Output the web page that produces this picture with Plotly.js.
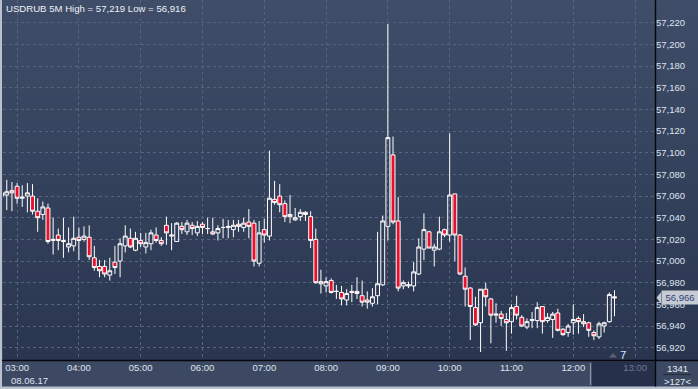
<!DOCTYPE html>
<html><head><meta charset="utf-8">
<script src="https://cdn.plot.ly/plotly-3.0.1.min.js"></script>
<style>html,body{margin:0;padding:0;background:#3d4963;overflow:hidden}#chart{width:698px;height:389px}</style>
</head><body><div id="chart"></div>
<script>
const symbol = 'USDRUB';
const timeframe = '5M';
const dateLabel = '08.06.17';
const dayPrefix = '2017-06-08 ';
const barCount = 1341;
const visibleBars = 127;
const markerCount = 7;

const times = [
 '02:45','02:50','02:55',
 '03:00','03:05','03:10','03:15','03:20','03:25','03:30','03:35','03:40','03:45','03:50','03:55',
 '04:00','04:05','04:10','04:15','04:20','04:25','04:30','04:35','04:40','04:45','04:50','04:55',
 '05:00','05:05','05:10','05:15','05:20','05:25','05:30','05:35','05:40','05:45','05:50','05:55',
 '06:00','06:05','06:10','06:15','06:20','06:25','06:30','06:35','06:40','06:45','06:50','06:55',
 '07:00','07:05','07:10','07:15','07:20','07:25','07:30','07:35','07:40','07:45','07:50','07:55',
 '08:00','08:05','08:10','08:15','08:20','08:25','08:30','08:35','08:40','08:45','08:50','08:55',
 '09:00','09:05','09:10','09:15','09:20','09:25','09:30','09:35','09:40','09:45','09:50','09:55',
 '10:00','10:05','10:10','10:15','10:20','10:25','10:30','10:35','10:40','10:45','10:50','10:55',
 '11:00','11:05','11:10','11:15','11:20','11:25','11:30','11:35','11:40','11:45','11:50','11:55',
 '12:00','12:05','12:10','12:15','12:20','12:25','12:30','12:35','12:40'
];

const open = [
 57.060,57.061,57.065,
 57.069,57.058,57.060,57.060,57.046,57.043,57.049,57.019,57.024,57.019,57.013,57.014,
 57.022,57.020,57.022,57.003,56.995,56.995,56.987,56.999,57.000,57.014,57.021,57.010,
 57.019,57.013,57.016,57.024,57.019,57.033,57.023,57.018,57.032,57.027,57.033,57.026,
 57.034,57.030,57.027,57.026,57.031,57.031,57.029,57.034,57.031,57.036,57.035,56.998,
 57.029,57.023,57.057,57.060,57.053,57.043,57.038,57.041,57.045,57.041,57.020,56.981,
 56.977,56.982,56.972,56.971,56.964,56.972,56.972,56.968,56.964,56.961,56.968,56.978,
 57.032,57.098,57.037,56.977,56.977,56.977,56.988,57.011,57.027,57.010,57.011,57.029,
 57.024,57.062,57.024,56.986,56.975,56.957,56.943,56.974,56.965,56.950,56.951,56.946,
 56.944,56.958,56.948,56.939,56.945,56.945,56.958,56.945,56.946,56.952,56.937,56.934,
 56.943,56.947,56.944,56.943,56.934,56.930,56.940,56.944,56.967
];
const high = [
 57.064,57.075,57.073,
 57.072,57.070,57.072,57.071,57.058,57.055,57.053,57.040,57.030,57.040,57.031,57.041,
 57.031,57.032,57.033,57.014,57.001,57.001,57.003,57.014,57.021,57.033,57.030,57.027,
 57.026,57.026,57.029,57.031,57.022,57.041,57.035,57.036,57.036,57.038,57.036,57.037,
 57.036,57.040,57.040,57.033,57.039,57.038,57.038,57.038,57.040,57.048,57.038,57.037,
 57.039,57.102,57.074,57.071,57.056,57.061,57.049,57.048,57.046,57.046,57.030,56.992,
 56.985,56.984,56.978,56.977,56.974,56.978,56.985,56.982,56.972,56.975,57.027,57.042,
 57.219,57.115,57.059,56.982,56.981,56.999,57.021,57.044,57.028,57.016,57.041,57.030,
 57.118,57.062,57.025,56.994,56.976,56.967,56.974,56.980,56.966,56.961,56.954,56.952,
 56.960,56.968,56.950,56.947,56.953,56.962,56.958,56.952,56.953,56.956,56.938,56.942,
 56.960,56.949,56.951,56.944,56.936,56.944,56.944,56.971,56.973
];
const low = [
 57.059,57.047,57.046,
 57.053,57.050,57.045,57.043,57.027,57.038,57.016,57.006,57.010,57.003,57.008,57.009,
 57.001,57.018,57.001,56.991,56.985,56.985,56.982,56.988,56.985,57.008,57.012,57.009,
 57.013,57.007,57.010,57.017,57.014,57.015,57.010,57.018,57.025,57.024,57.024,57.023,
 57.025,57.025,57.024,57.019,57.021,57.021,57.022,57.027,57.027,57.021,56.995,56.995,
 57.017,57.019,57.052,57.045,57.036,57.035,57.037,57.037,57.037,57.012,56.979,56.970,
 56.971,56.970,56.965,56.959,56.959,56.962,56.965,56.958,56.956,56.958,56.960,56.977,
 57.019,57.034,56.972,56.974,56.975,56.972,56.987,57.001,57.012,56.995,57.010,57.022,
 57.018,57.000,56.987,56.958,56.927,56.940,56.916,56.958,56.924,56.943,56.940,56.917,
 56.933,56.946,56.939,56.937,56.938,56.938,56.933,56.943,56.929,56.935,56.931,56.930,
 56.932,56.933,56.939,56.930,56.927,56.928,56.934,56.943,56.949
];
const close = [
 57.063,57.064,57.063,
 57.058,57.059,57.063,57.046,57.040,57.050,57.018,57.020,57.019,57.018,57.016,57.021,
 57.019,57.023,57.004,56.994,56.991,56.988,56.991,56.994,57.016,57.023,57.013,57.021,
 57.016,57.017,57.026,57.019,57.016,57.026,57.024,57.035,57.029,57.035,57.030,57.032,
 57.031,57.030,57.025,57.030,57.031,57.032,57.033,57.032,57.035,57.032,57.000,57.026,
 57.024,57.058,57.054,57.052,57.041,57.041,57.040,57.045,57.043,57.019,56.980,56.979,
 56.981,56.971,56.972,56.965,56.970,56.971,56.970,56.962,56.962,56.967,56.979,57.037,
 57.114,57.036,56.975,56.980,56.978,56.990,57.013,57.029,57.012,57.013,57.027,57.024,
 57.061,57.024,56.988,56.974,56.958,56.941,56.974,56.967,56.950,56.951,56.947,56.943,
 56.957,56.950,56.940,56.944,56.946,56.957,56.944,56.948,56.951,56.936,56.932,56.940,
 56.946,56.944,56.942,56.936,56.931,56.942,56.943,56.969,56.966
];

const yTicks = [56.92,56.94,56.96,56.98,57.00,57.02,57.04,57.06,57.08,57.10,57.12,57.14,57.16,57.18,57.20,57.22];
const xTicks = ['03:00','04:00','05:00','06:00','07:00','08:00','09:00','10:00','11:00','12:00','13:00'];
const futureTick = '13:00';

const toDate = t => dayPrefix + t + ':00';
const fmt = v => v.toFixed(3).replace('.', ',');
const hiVal = Math.max(...high), loVal = Math.min(...low);
const lastClose = close[close.length - 1];

// geometry helpers (pixels -> paper)
const W = 698, H = 389, ML = 3, MR = 43, MT = 0, MB = 29;
const PW = W - ML - MR, PH = H - MT - MB;
const px = x => (x - ML) / PW;
const py = y => (PH + MT - y) / PH;

const shapes = [];
// gradient background for plot + right axis panel
const gradTop = [63, 77, 104], gradBot = [42, 54, 80];
const N = 36;
for (let k = 0; k < N; k++) {
  const t = (k + 0.5) / N;
  const c = gradTop.map((v, j) => Math.round(v + (gradBot[j] - v) * t));
  shapes.push({type:'rect', xref:'paper', yref:'paper', x0:px(ML), x1:px(W), y0:py(k*PH/N), y1:py((k+1)*PH/N + 0.5),
    fillcolor:`rgb(${c[0]},${c[1]},${c[2]})`, line:{width:0}, layer:'below'});
}
// future (13:00) region in time axis
shapes.push({type:'rect', xref:'paper', yref:'paper', x0:px(592), x1:px(655), y0:py(361.5), y1:py(386.5),
  fillcolor:'#27304a', line:{width:0}, layer:'below'});
shapes.push({type:'line', xref:'paper', yref:'paper', x0:px(590.5), x1:px(590.5), y0:py(363), y1:py(385),
  line:{color:'#8b94a6', width:1.2}});
// left & bottom light border
shapes.push({type:'rect', xref:'paper', yref:'paper', x0:px(0), x1:px(2), y0:py(0), y1:py(H),
  fillcolor:'#b9c1ce', line:{width:0}});
shapes.push({type:'rect', xref:'paper', yref:'paper', x0:px(0), x1:px(W), y0:py(386.5), y1:py(H),
  fillcolor:'#b9c1ce', line:{width:0}});
// black separators
shapes.push({type:'line', xref:'paper', yref:'paper', x0:px(655.5), x1:px(655.5), y0:py(0), y1:py(386.5),
  line:{color:'#05070c', width:1.4}});
shapes.push({type:'line', xref:'paper', yref:'paper', x0:px(2), x1:px(W), y0:py(360.5), y1:py(360.5),
  line:{color:'#05070c', width:1.4}});
// bar-count divider
shapes.push({type:'line', xref:'paper', yref:'paper', x0:px(663), x1:px(691), y0:py(374.5), y1:py(374.5),
  line:{color:'#262e3d', width:1.2}});
// last price arrow
shapes.push({type:'path', xref:'paper', yref:'y',
  path:`M ${px(656.5)},${lastClose} L ${px(661)},${lastClose+0.0052} L ${px(661)},${lastClose-0.0052} Z`,
  fillcolor:'#c6cad3', line:{width:0}});
// small marker triangle near counter
shapes.push({type:'path', xref:'paper', yref:'paper',
  path:`M ${px(609)},${py(357.5)} L ${px(613)},${py(353)} L ${px(617)},${py(357.5)} Z`,
  fillcolor:'#5a6172', line:{width:0}});

const txt = '#dde4f0';
const fam = 'Liberation Sans, Arial, sans-serif';
const annotations = [
  {xref:'paper', yref:'paper', x:px(4), y:py(8), xanchor:'left', yanchor:'middle', showarrow:false,
   text:`${symbol} ${timeframe} High = ${fmt(hiVal)} Low = ${fmt(loVal)}`,
   font:{family:fam, size:9.6, color:'#eef1f7'}},
  {xref:'paper', yref:'paper', x:px(29), y:py(380.5), xanchor:'center', yanchor:'middle', showarrow:false,
   text:dateLabel, font:{family:fam, size:9.5, color:txt}},
  {xref:'paper', yref:'y', x:px(661), y:lastClose, xanchor:'left', yanchor:'middle', showarrow:false,
   text:fmt(lastClose), bgcolor:'#c6cad3', borderpad:1, width:34, height:11,
   font:{family:fam, size:9.5, color:'#2d3f7c'}},
  {xref:'paper', yref:'paper', x:px(677), y:py(368.5), xanchor:'center', yanchor:'middle', showarrow:false,
   text:String(barCount), font:{family:fam, size:9.5, color:'#e6ebf3'}},
  {xref:'paper', yref:'paper', x:px(677), y:py(381), xanchor:'center', yanchor:'middle', showarrow:false,
   text:'&gt;' + visibleBars + '&lt;', font:{family:fam, size:9.5, color:'#e6ebf3'}},
  {xref:'paper', yref:'paper', x:px(623), y:py(355), xanchor:'center', yanchor:'middle', showarrow:false,
   text:String(markerCount), font:{family:fam, size:11.5, color:'#cfe0ff'}}
];

const trace = {
  type:'candlestick', x:times.map(toDate), open, high, low, close,
  increasing:{line:{color:'#ffffff', width:1}, fillcolor:'rgba(0,0,0,0)'},
  decreasing:{line:{color:'#ffffff', width:1}, fillcolor:'#ea0f2b'},
  whiskerwidth:0, hoverinfo:'skip', showlegend:false
};

const layout = {
  width:W, height:H, margin:{l:ML, r:MR, t:MT, b:MB, pad:0},
  paper_bgcolor:'#3d4963', plot_bgcolor:'rgba(0,0,0,0)',
  separators:', ', showlegend:false, boxgap:0.13, boxgroupgap:0.13,
  font:{family:fam, size:9.5, color:txt},
  xaxis:{type:'date', range:[dayPrefix + '02:46:20', dayPrefix + '13:19:20'],
    rangeslider:{visible:false},
    tickvals:xTicks.map(toDate),
    ticktext:xTicks.map(t => t === futureTick ? `<span style="color:#6d7891">${t}</span>` : t),
    showgrid:true, gridcolor:'#56647e', gridwidth:1, griddash:'3px,3px',
    zeroline:false, showline:false, ticks:'', tickfont:{size:9.5, color:txt}, fixedrange:true},
  yaxis:{side:'right', range:[56.9086, 57.2411], tickvals:yTicks, tickformat:'.3f',
    showgrid:true, gridcolor:'#56647e', gridwidth:1, griddash:'3px,3px',
    zeroline:false, showline:false, ticks:'', tickfont:{size:9.5, color:txt}, fixedrange:true},
  shapes, annotations
};

Plotly.newPlot('chart', [trace], layout, {displayModeBar:false, staticPlot:true});
</script></body></html>
